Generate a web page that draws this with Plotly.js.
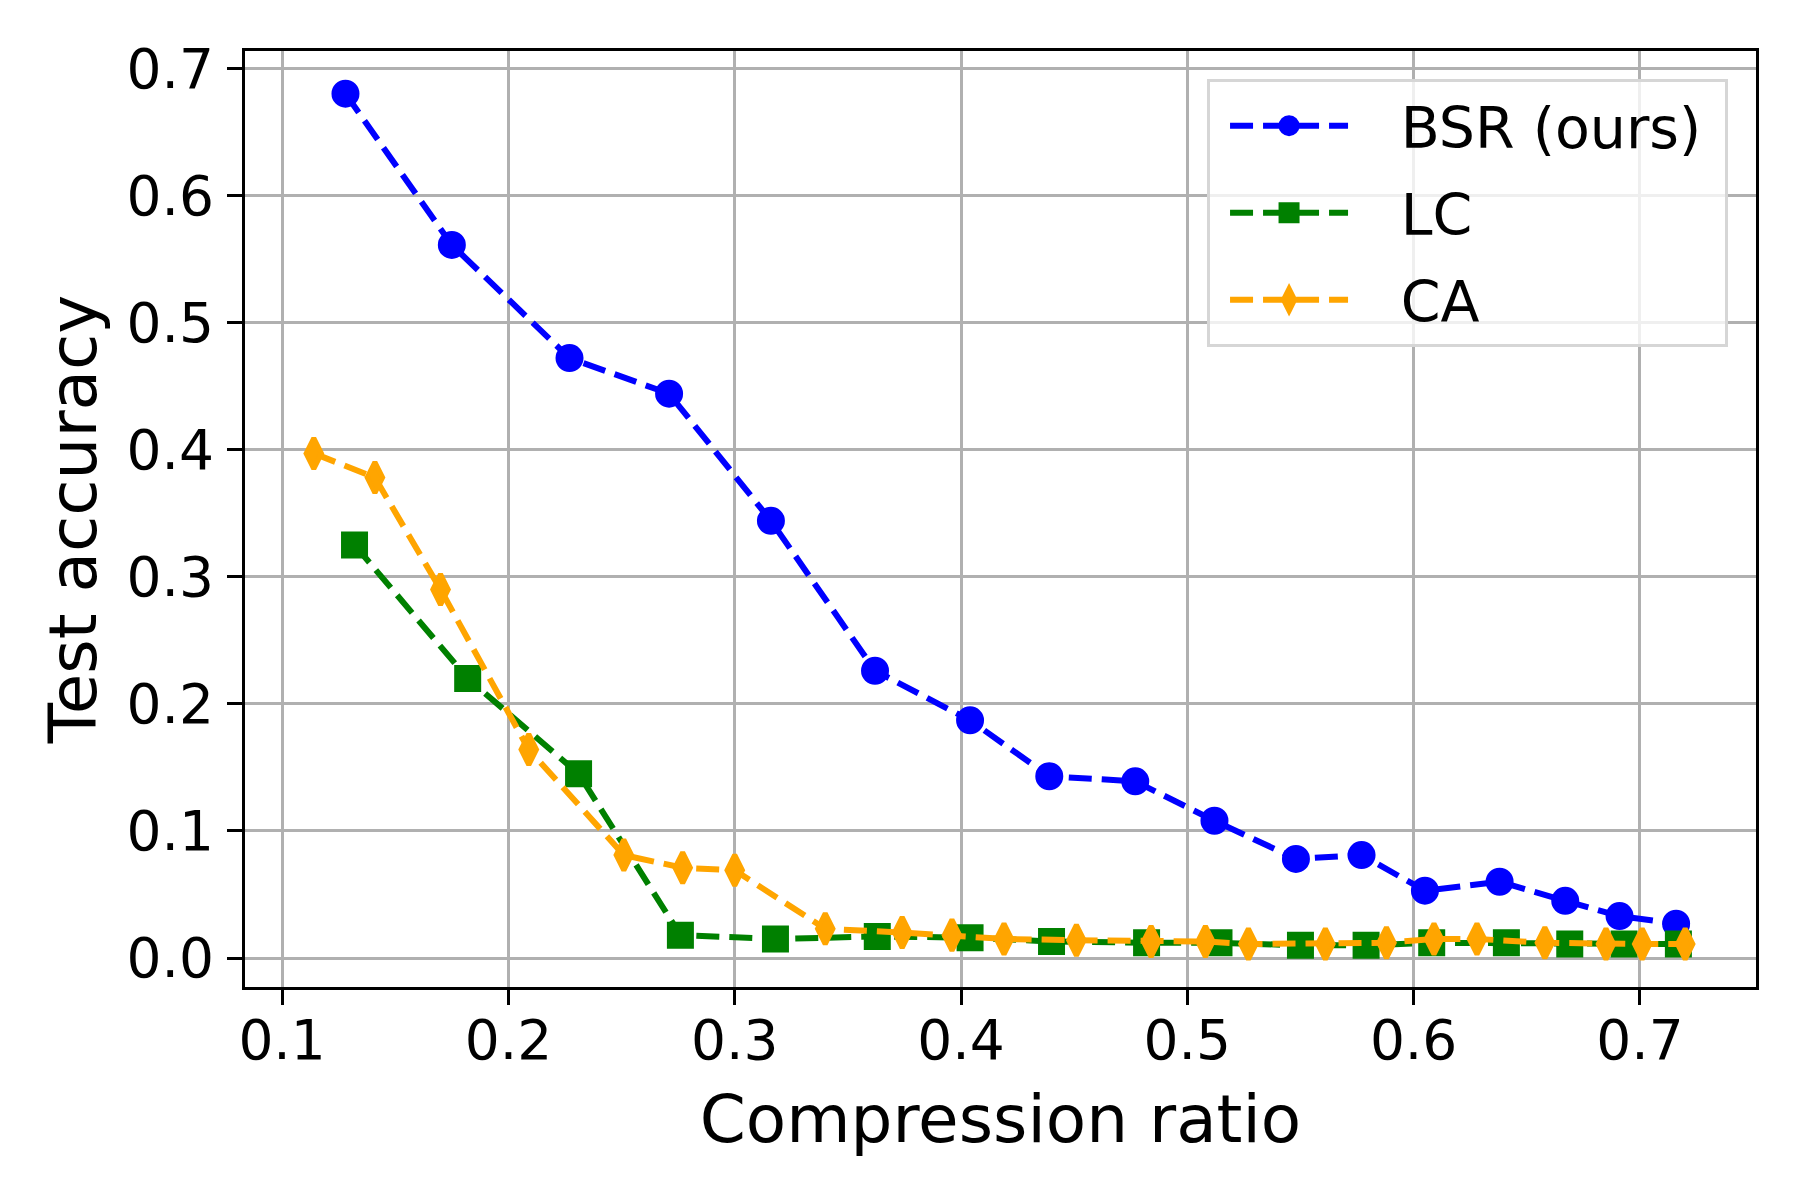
<!DOCTYPE html>
<html>
<head>
<meta charset="utf-8">
<script src="https://cdn.plot.ly/plotly-3.0.1.min.js"></script>
<style>html,body{margin:0;padding:0;background:#fff;}#chart{width:1800px;height:1200px;}</style>
</head>
<body>
<div id="chart"></div>
<script>
// Data
const seriesNames = ["BSR (ours)", "LC", "CA"];

const bsrX = [0.128, 0.175, 0.227, 0.271, 0.316, 0.362, 0.404, 0.439, 0.477, 0.512, 0.548, 0.577, 0.605, 0.638, 0.667, 0.691, 0.716];
const bsrY = [0.680, 0.561, 0.472, 0.444, 0.344, 0.226, 0.187, 0.143, 0.139, 0.108, 0.078, 0.081, 0.053, 0.060, 0.045, 0.033, 0.027];

const lcX = [0.132, 0.182, 0.231, 0.276, 0.318, 0.363, 0.404, 0.440, 0.482, 0.514, 0.550, 0.579, 0.608, 0.641, 0.669, 0.693, 0.717];
const lcY = [0.325, 0.220, 0.145, 0.018, 0.015, 0.017, 0.016, 0.013, 0.012, 0.012, 0.010, 0.010, 0.012, 0.012, 0.011, 0.011, 0.011];

const caX = [0.114, 0.141, 0.170, 0.209, 0.251, 0.277, 0.300, 0.340, 0.374, 0.396, 0.419, 0.451, 0.484, 0.508, 0.527, 0.561, 0.588, 0.609, 0.628, 0.658, 0.685, 0.701, 0.720];
const caY = [0.397, 0.378, 0.290, 0.164, 0.081, 0.071, 0.069, 0.023, 0.020, 0.018, 0.015, 0.014, 0.013, 0.013, 0.011, 0.011, 0.012, 0.015, 0.015, 0.012, 0.011, 0.011, 0.011];

const xTicks = [0.1, 0.2, 0.3, 0.4, 0.5, 0.6, 0.7];
const yTicks = [0.0, 0.1, 0.2, 0.3, 0.4, 0.5, 0.6, 0.7];

const FONT = "DejaVu Sans, sans-serif";
const DASH = "23px,10px";
const LW = 6;
const PRE = "\u00a0\u00a0\u2009"; // spacing between legend sample and label
const POST = "\u00a0";            // right padding inside legend box

const traces = [
  {x: bsrX, y: bsrY, name: PRE + seriesNames[0] + POST, legendgroup: "g1", mode: "lines+markers", type: "scatter",
   line: {color: "#0000ff", width: LW, dash: DASH},
   marker: {symbol: "circle", size: 23, color: "#0000ff", line: {color: "#0000ff", width: 5}}},
  {x: lcX, y: lcY, name: PRE + seriesNames[1] + POST, legendgroup: "g2", mode: "lines+markers", type: "scatter",
   line: {color: "#008000", width: LW, dash: DASH},
   marker: {symbol: "square", size: 22, color: "#008000", line: {color: "#008000", width: 5}}},
  {x: caX, y: caY, name: PRE + seriesNames[2] + POST, legendgroup: "g3", mode: "lines+markers", type: "scatter",
   line: {color: "#ffa500", width: LW, dash: DASH},
   marker: {symbol: "diamond-tall", size: 22, color: "#ffa500", line: {color: "#ffa500", width: 5}}}
];

const axisCommon = {
  showline: true, linecolor: "#000", linewidth: 3, mirror: true,
  showgrid: true, gridcolor: "#b0b0b0", gridwidth: 3,
  zeroline: false,
  ticks: "outside", ticklen: 15, tickwidth: 3, tickcolor: "#000",
  tickfont: {family: FONT, size: 55, color: "#000"}
};

const layout = {
  width: 1800, height: 1200,
  paper_bgcolor: "#fff", plot_bgcolor: "#fff",
  margin: {l: 245, r: 44, t: 51, b: 213},
  font: {family: FONT, color: "#000"},
  showlegend: true,
  legend: {
    x: 0.9815, y: 0.970, xanchor: "right", yanchor: "top",
    bgcolor: "rgba(255,255,255,0.8)", bordercolor: "#d6d6d6", borderwidth: 3,
    font: {family: FONT, size: 57, color: "#000"},
    itemwidth: 118, indentation: 15,
    traceorder: "grouped", tracegroupgap: 10
  },
  xaxis: Object.assign({}, axisCommon, {
    range: [0.0836, 0.7513],
    tickmode: "array", tickvals: xTicks, ticktext: xTicks.map(v => v.toFixed(1)),
    ticklabelstandoff: -12,
    title: {text: "Compression ratio", font: {family: FONT, size: 66, color: "#000"}, standoff: 25}
  }),
  yaxis: Object.assign({}, axisCommon, {
    range: [-0.0228, 0.7136],
    tickmode: "array", tickvals: yTicks, ticktext: yTicks.map(v => v.toFixed(1)),
    ticklabelstandoff: 2,
    title: {text: "Test accuracy", font: {family: FONT, size: 66, color: "#000"}, standoff: 9}
  })
};

Plotly.newPlot("chart", traces, layout, {displayModeBar: false, staticPlot: true});
</script>
</body>
</html>
